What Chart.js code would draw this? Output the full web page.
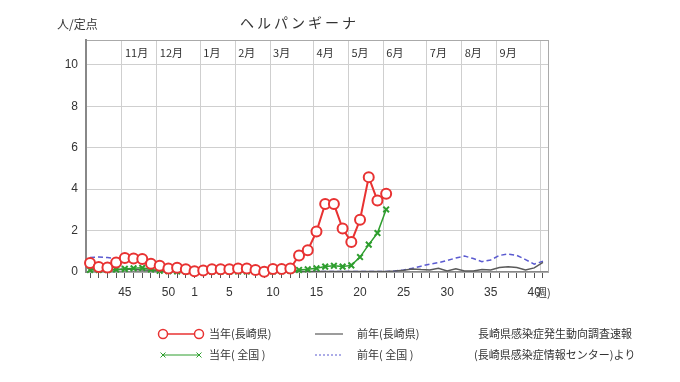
<!DOCTYPE html>
<html><head><meta charset="utf-8">
<script src="https://cdn.jsdelivr.net/npm/chart.js@4"></script>
<style>html,body{margin:0;padding:0;background:#fff}#wrap{position:relative;width:680px;height:382px}</style>
</head><body><div id="wrap"><canvas id="c" width="680" height="382"></canvas></div>
<script>
// ---- data ----
const weekLabels = [41,42,43,44,45,46,47,48,49,50,51,52,1,2,3,4,5,6,7,8,9,10,11,12,13,14,15,16,17,18,19,20,21,22,23,24,25,26,27,28,29,30,31,32,33,34,35,36,37,38,39,40,41];
const labelledWeeks = [45,50,1,5,10,15,20,25,30,35,40];
const monthLabels = ['11月','12月','1月','2月','3月','4月','5月','6月','7月','8月','9月'];
const monthStarts = [3.67,7.67,12.67,16.67,20.67,25.67,29.67,33.67,38.67,42.67,46.67,51.67];
const yTicks = [0,2,4,6,8,10];
const curPref = [0.43,0.24,0.22,0.46,0.68,0.65,0.63,0.4,0.3,0.17,0.2,0.13,0.04,0.07,0.13,0.13,0.13,0.17,0.17,0.1,0.01,0.14,0.14,0.17,0.8,1.05,1.95,3.28,3.28,2.1,1.45,2.52,4.58,3.45,3.78];
const curNat = [0.1,0.1,0.1,0.12,0.15,0.18,0.2,0.12,0.06,0.04,0.03,0.03,0.02,0.02,0.02,0.02,0.02,0.02,0.02,0.02,0.03,0.03,0.04,0.06,0.1,0.13,0.18,0.26,0.3,0.26,0.32,0.72,1.32,1.88,3.02];
const prevPref = [0.15,0.1,0.12,0.1,0.15,0.12,0.1,0.08,0.05,0.05,0.03,0.03,0.02,0.02,0.02,0.03,0.02,0.02,0.02,0.02,0.02,0.02,0.02,0.02,0.02,0.02,0.02,0.02,0.02,0.02,0.02,0.02,0.02,
  0.02,0.03,0.05,0.08,0.15,0.12,0.1,0.18,0.05,0.15,0.05,0.05,0.12,0.1,0.22,0.25,0.22,0.1,0.2,0.47];
const prevNat = [0.7,0.72,0.7,0.65,0.6,0.55,0.5,0.42,0.35,0.28,0.22,0.18,0.15,0.12,0.1,0.1,0.08,0.07,0.06,0.05,0.05,0.05,0.04,0.04,0.04,0.03,0.03,0.03,0.03,0.03,0.03,0.03,0.03,
  0.03,0.03,0.05,0.1,0.18,0.28,0.38,0.45,0.55,0.68,0.77,0.65,0.5,0.58,0.8,0.87,0.8,0.6,0.38,0.52];

const X_MIN = -0.46, X_MAX = 52.58, Y_MAX = 11.2;
const toXY = arr => arr.map((v,i)=>({x:i,y:v}));
const numFont = "'Liberation Sans Narrow','Liberation Sans',Arial,sans-serif";
const jpFont = "'Noto Sans CJK JP',sans-serif";
const RED='#e83232', GREEN='#2e9e2e', BLACK='#5a5a5a', BLUE='#5a5ad0';

const overlay = {
  id:'overlay',
  afterDraw(chart){
    const c = chart.ctx, xs = chart.scales.x;
    c.save();
    c.fillStyle='#333';
    c.textBaseline='middle';
    // title
    c.font = "14px "+jpFont;
    c.letterSpacing='3px';
    c.textAlign='left';
    c.fillText('ヘルパンギーナ', 240, 23);
    c.letterSpacing='0px';
    c.font = "12px "+jpFont;
    c.fillText('人/定点', 57, 24);
    // month labels
    c.font = "11px "+jpFont;
    monthLabels.forEach((m,i)=>{
      c.fillText(m, xs.getPixelForValue(monthStarts[i])+3, 53);
    });
    // week unit
    c.font = "11px "+jpFont;
    c.fillText('週)', 536, 293);
    // legend
    const r1=334, r2=355;
    c.lineWidth=1.5;
    c.strokeStyle=RED; c.beginPath(); c.moveTo(163,r1); c.lineTo(199,r1); c.stroke();
    [163,199].forEach(x=>{c.beginPath(); c.arc(x,r1,4.5,0,Math.PI*2); c.fillStyle='#fff'; c.fill(); c.stroke();});
    c.strokeStyle=GREEN; c.lineWidth=1; c.beginPath(); c.moveTo(163,r2); c.lineTo(199,r2); c.stroke();
    [163,199].forEach(x=>{c.beginPath(); c.moveTo(x-2.5,r2-2.5); c.lineTo(x+2.5,r2+2.5); c.moveTo(x-2.5,r2+2.5); c.lineTo(x+2.5,r2-2.5); c.stroke();});
    c.strokeStyle=BLACK; c.lineWidth=1.2; c.beginPath(); c.moveTo(315,r1); c.lineTo(343,r1); c.stroke();
    c.strokeStyle=BLUE; c.setLineDash([2,2]); c.beginPath(); c.moveTo(315,r2); c.lineTo(343,r2); c.stroke(); c.setLineDash([]);
    c.fillStyle='#333';
    c.font = "11px "+jpFont;
    c.fillText('当年(長崎県)', 209, r1);
    c.fillText('当年( 全国 )', 209, r2);
    c.fillText('前年(長崎県)', 357, r1);
    c.fillText('前年( 全国 )', 357, r2);
    c.fillText('長崎県感染症発生動向調査速報', 478, r1);
    c.fillText('(長崎県感染症情報センター)より', 474, r2);
    c.restore();
  }
};

new Chart(document.getElementById('c'), {
  type:'line',
  data:{datasets:[
    {label:'当年(長崎県)', data:toXY(curPref), borderColor:RED, borderWidth:2, pointRadius:5, pointBorderWidth:2,
     pointBackgroundColor:'#fff', pointBorderColor:RED, clip:false, order:1},
    {label:'当年( 全国 )', data:toXY(curNat), borderColor:GREEN, borderWidth:1.5, pointStyle:'crossRot', pointRadius:4,
     pointBorderWidth:2, pointBorderColor:GREEN, clip:false, order:2},
    {label:'前年(長崎県)', data:toXY(prevPref), borderColor:BLACK, borderWidth:1.5, pointRadius:0, order:3},
    {label:'前年( 全国 )', data:toXY(prevNat), borderColor:BLUE, borderWidth:1.5, borderDash:[5,3], pointRadius:0, order:4}
  ]},
  options:{
    responsive:false, animation:false, devicePixelRatio:1,
    layout:{padding:{left:0,right:132,top:40,bottom:0}},
    plugins:{legend:{display:false}, tooltip:{enabled:false}},
    elements:{line:{tension:0}},
    scales:{
      x:{type:'linear', position:'bottom', min:X_MIN, max:X_MAX,
        afterBuildTicks:s=>{s.ticks = weekLabels.map((w,i)=>({value:i}));},
        ticks:{autoSkip:false, maxRotation:0, padding:7, color:'#333', font:{family:numFont,size:12},
          callback:(v)=>{const w=weekLabels[v]; return (labelledWeeks.includes(w) && !(w===41)) ? String(w) : '';}},
        grid:{drawOnChartArea:false, drawTicks:true, tickLength:6, color:'#555'},
        border:{color:'#888', width:1.5},
        afterFit:s=>{s.height=110;}},
      xm:{type:'linear', position:'top', min:X_MIN, max:X_MAX,
        afterBuildTicks:s=>{s.ticks = monthStarts.map(v=>({value:v}));},
        ticks:{display:false},
        grid:{drawOnChartArea:true, drawTicks:false, color:'#cfcfcf'},
        border:{color:'#aaa', width:1},
        afterFit:s=>{s.height=0;}},
      y:{min:0, max:Y_MAX,
        afterBuildTicks:s=>{s.ticks = yTicks.map(v=>({value:v}));},
        ticks:{padding:8, color:'#333', font:{family:numFont,size:12}},
        grid:{color:'#cfcfcf', drawTicks:false},
        border:{color:'#888', width:2},
        afterFit:s=>{s.width=86;}},
      yr:{position:'right', min:0, max:Y_MAX,
        ticks:{display:false}, grid:{display:false, drawTicks:false},
        border:{color:'#aaa', width:1},
        afterFit:s=>{s.width=0;}}
    }
  },
  plugins:[overlay]
});
</script>
</body></html>
